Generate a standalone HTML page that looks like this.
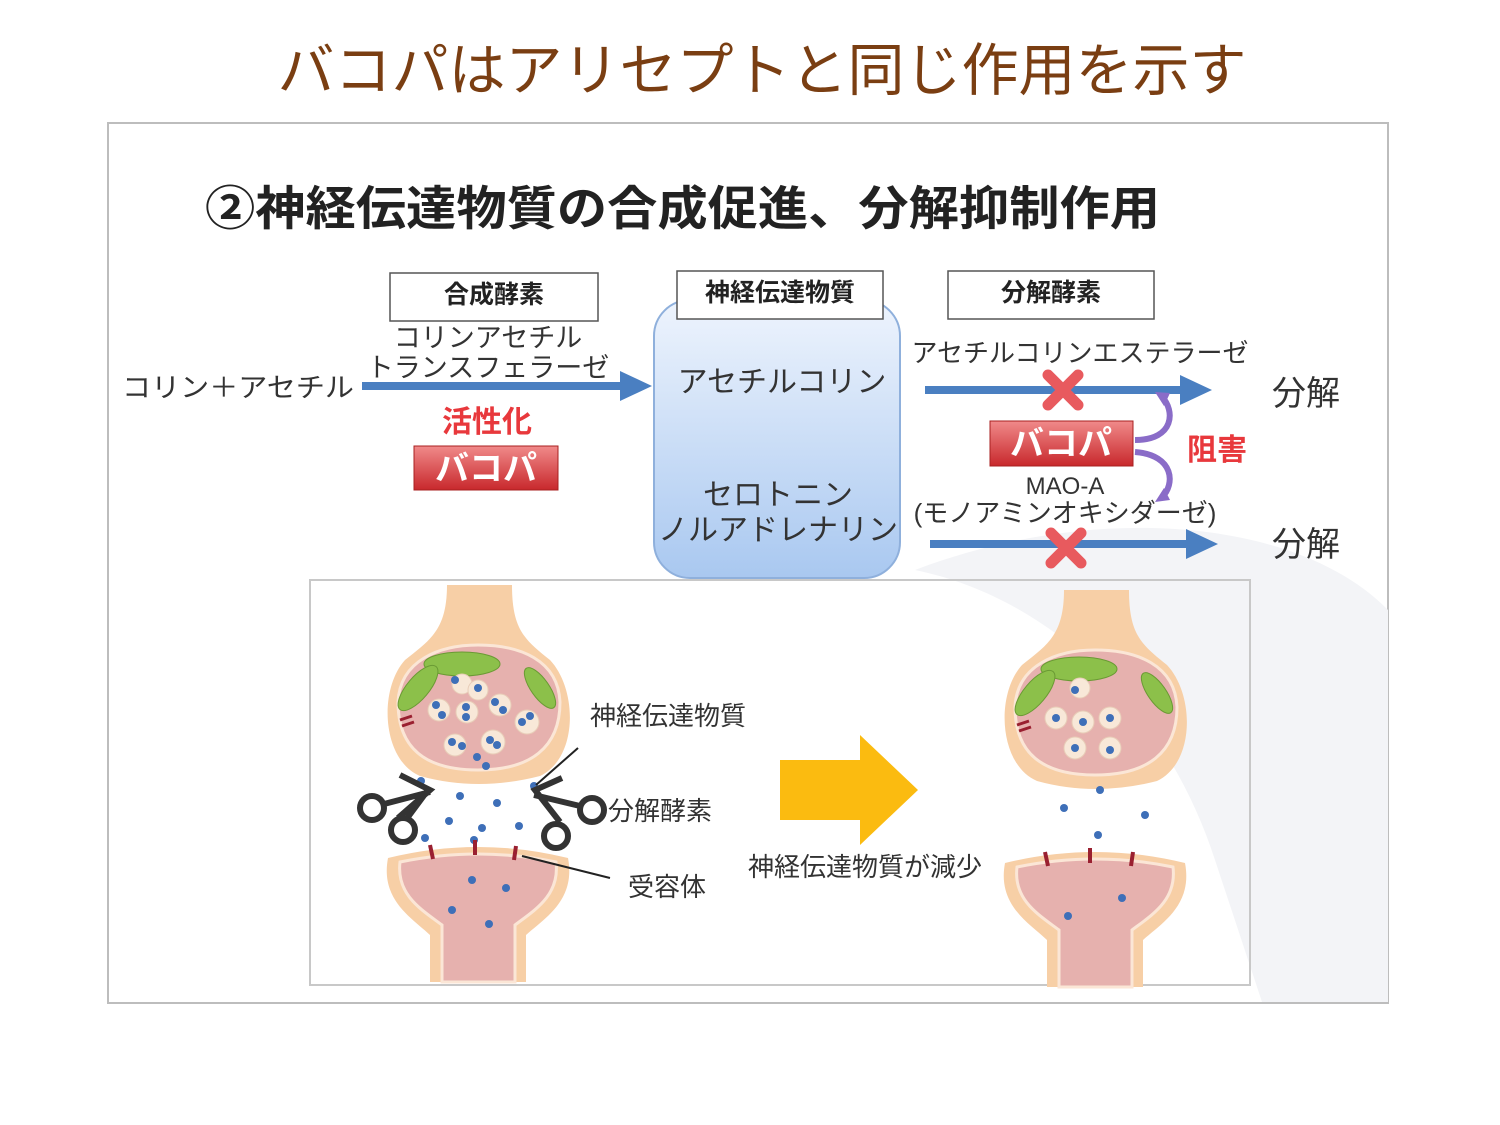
<!DOCTYPE html>
<html><head><meta charset="utf-8"><style>
html,body{margin:0;padding:0;background:#fff}
svg{display:block}
text{font-family:"Liberation Sans","Noto Sans CJK JP",sans-serif}
</style></head><body>
<svg width="1500" height="1125" viewBox="0 0 1500 1125" xmlns="http://www.w3.org/2000/svg">
<defs>
<linearGradient id="bl" x1="0" y1="0" x2="0" y2="1"><stop offset="0" stop-color="#eef4fd"/><stop offset="1" stop-color="#a9c8f0"/></linearGradient>
<linearGradient id="rd" x1="0" y1="0" x2="0" y2="1"><stop offset="0" stop-color="#f08a8a"/><stop offset="1" stop-color="#c8282c"/></linearGradient>
<g id="syn">
 <path d="M447,585 C447,630 430,640 405,660 C378,690 382,760 420,776 Q478,792 540,776 C578,758 578,690 550,660 C525,640 512,630 512,585 Z" fill="#f7cfa6"/>
 <path d="M398,702 C400,660 440,645 478,645 C520,645 558,660 560,702 C560,748 530,770 478,770 C425,770 398,748 398,702Z" fill="#e6b1ae" stroke="#fbe6d6" stroke-width="3"/>
 <ellipse cx="462" cy="664" rx="38" ry="12" fill="#8cc04a" stroke="#6a9a34"/>
 <ellipse cx="418" cy="688" rx="28" ry="11" fill="#8cc04a" stroke="#6a9a34" transform="rotate(-50 418 688)"/>
 <ellipse cx="540" cy="688" rx="24" ry="9" fill="#8cc04a" stroke="#6a9a34" transform="rotate(55 540 688)"/>
 <path d="M388,858 Q478,836 568,858 C576,900 545,918 526,935 L526,982 L430,982 L430,935 C412,918 380,900 388,858Z" fill="#f7cfa6"/>
 <path d="M400,862 Q478,846 556,862 C560,895 535,910 515,925 L515,982 L442,982 L442,925 C422,910 396,895 400,862Z" fill="#e6b1ae" stroke="#fbe6d6" stroke-width="3"/>
 <path d="M400,720 l12,-4 M402,726 l12,-4" stroke="#9a2030" stroke-width="3"/>
</g>
</defs>
<text x="762" y="90" font-size="57" fill="#7a3e12" text-anchor="middle">バコパはアリセプトと同じ作用を示す</text>
<rect x="108" y="123" width="1280" height="880" fill="#fff" stroke="#bdbdbd" stroke-width="2"/>
<path d="M915,570 C1060,600 1170,720 1215,860 L1262,1002 L1388,1002 L1388,610 C1300,520 1100,500 915,570Z" fill="#f3f4f7"/>
<text x="205" y="225" font-size="47" font-weight="bold" fill="#222" textLength="955" lengthAdjust="spacingAndGlyphs">②神経伝達物質の合成促進、分解抑制作用</text>
<rect x="654" y="300" width="246" height="278" rx="36" fill="url(#bl)" stroke="#8fb0dc" stroke-width="2"/>
<rect x="390" y="273" width="208" height="48" fill="#fff" stroke="#555" stroke-width="1.5"/>
<text x="494" y="303" font-size="25" font-weight="bold" text-anchor="middle" fill="#222">合成酵素</text>
<rect x="677" y="271" width="206" height="48" fill="#fff" stroke="#555" stroke-width="1.5"/>
<text x="780" y="301" font-size="25" font-weight="bold" text-anchor="middle" fill="#222">神経伝達物質</text>
<rect x="948" y="271" width="206" height="48" fill="#fff" stroke="#555" stroke-width="1.5"/>
<text x="1051" y="301" font-size="25" font-weight="bold" text-anchor="middle" fill="#222">分解酵素</text>
<g fill="#333" font-size="27" text-anchor="middle">
<text x="488" y="347">コリンアセチル</text>
<text x="488" y="377">トランスフェラーゼ</text>
<text x="122" y="397" text-anchor="start" textLength="232" lengthAdjust="spacingAndGlyphs">コリン＋アセチル</text>
<text x="782" y="392" font-size="30">アセチルコリン</text>
<text x="778" y="505" font-size="30">セロトニン</text>
<text x="778" y="540" font-size="30">ノルアドレナリン</text>
<text x="1080" y="362" font-size="26">アセチルコリンエステラーゼ</text>
<text x="1065" y="494" font-size="24">MAO-A</text>
<text x="1065" y="522" font-size="26">(モノアミンオキシダーゼ)</text>
<text x="1306" y="405" font-size="34">分解</text>
<text x="1306" y="556" font-size="34">分解</text>
</g>
<path d="M362,382 L620,382 L620,371 L652,386 L620,401 L620,390 L362,390Z" fill="#4a7fc1"/>
<path d="M925,386 L1180,386 L1180,375 L1212,390 L1180,405 L1180,394 L925,394Z" fill="#4a7fc1"/>
<path d="M930,540 L1186,540 L1186,529 L1218,544 L1186,559 L1186,548 L930,548Z" fill="#4a7fc1"/>
<g stroke="#e85a5e" stroke-width="11" stroke-linecap="round">
<path d="M1048,375 L1078,405 M1078,375 L1048,405"/>
<path d="M1051,533 L1081,563 M1081,533 L1051,563"/>
</g>
<text x="487" y="432" font-size="30" font-weight="bold" fill="#e8383c" text-anchor="middle">活性化</text>
<rect x="414" y="446" width="144" height="44" fill="url(#rd)" stroke="#a82020"/>
<text x="486" y="480" font-size="34" font-weight="bold" fill="#fff" text-anchor="middle">バコパ</text>
<rect x="990" y="421" width="143" height="45" fill="url(#rd)" stroke="#a82020"/>
<text x="1061" y="455" font-size="34" font-weight="bold" fill="#fff" text-anchor="middle">バコパ</text>
<text x="1187" y="460" font-size="30" font-weight="bold" fill="#e8383c">阻害</text>
<g fill="none" stroke="#8a6cc8" stroke-width="6">
<path d="M1135,440 C1175,440 1175,410 1162,397"/>
<path d="M1135,452 C1175,455 1175,485 1162,497"/>
</g>
<path d="M1155,392 L1170,393 L1164,406Z M1155,502 L1170,500 L1164,488Z" fill="#8a6cc8"/>
<rect x="310" y="580" width="940" height="405" fill="none" stroke="#c8c8c8" stroke-width="2"/>
<use href="#syn"/>
<use href="#syn" transform="translate(617,5)"/>
<g fill="#f8e8d8" stroke="#e8cdb8">
<circle cx="439" cy="710" r="11"/><circle cx="467" cy="712" r="11"/><circle cx="500" cy="705" r="11"/><circle cx="527" cy="722" r="12"/><circle cx="455" cy="745" r="11"/><circle cx="493" cy="742" r="12"/><circle cx="462" cy="684" r="10"/><circle cx="478" cy="690" r="10"/>
<circle cx="1056" cy="718" r="11"/><circle cx="1083" cy="722" r="11"/><circle cx="1110" cy="718" r="11"/><circle cx="1075" cy="748" r="11"/><circle cx="1110" cy="748" r="11"/><circle cx="1080" cy="688" r="10"/>
</g>
<g fill="#3e6fb8">
<circle cx="455" cy="680" r="4"/><circle cx="478" cy="688" r="4"/><circle cx="436" cy="705" r="4"/><circle cx="442" cy="715" r="4"/><circle cx="466" cy="707" r="4"/><circle cx="466" cy="717" r="4"/><circle cx="495" cy="702" r="4"/><circle cx="503" cy="710" r="4"/><circle cx="522" cy="722" r="4"/><circle cx="530" cy="716" r="4"/><circle cx="452" cy="742" r="4"/><circle cx="462" cy="746" r="4"/><circle cx="490" cy="740" r="4"/><circle cx="497" cy="745" r="4"/><circle cx="477" cy="757" r="4"/><circle cx="486" cy="766" r="4"/>
<circle cx="421" cy="781" r="4"/><circle cx="460" cy="796" r="4"/><circle cx="497" cy="803" r="4"/><circle cx="534" cy="786" r="4"/><circle cx="449" cy="821" r="4"/><circle cx="482" cy="828" r="4"/><circle cx="519" cy="826" r="4"/><circle cx="425" cy="838" r="4"/><circle cx="474" cy="840" r="4"/><circle cx="472" cy="880" r="4"/><circle cx="506" cy="888" r="4"/><circle cx="452" cy="910" r="4"/><circle cx="489" cy="924" r="4"/>
<circle cx="1075" cy="690" r="4"/><circle cx="1056" cy="718" r="4"/><circle cx="1083" cy="722" r="4"/><circle cx="1110" cy="718" r="4"/><circle cx="1075" cy="748" r="4"/><circle cx="1110" cy="750" r="4"/>
<circle cx="1100" cy="790" r="4"/><circle cx="1064" cy="808" r="4"/><circle cx="1145" cy="815" r="4"/><circle cx="1098" cy="835" r="4"/><circle cx="1122" cy="898" r="4"/><circle cx="1068" cy="916" r="4"/>
</g>
<g stroke="#9a2030" stroke-width="4">
<path d="M430,845 l3,14 M475,840 l0,15 M516,846 l-2,14 M1045,852 l3,14 M1090,848 l0,15 M1133,852 l-2,14"/>
</g>
<g fill="none" stroke="#333" stroke-width="6">
<circle cx="372" cy="808" r="12"/><circle cx="403" cy="830" r="12"/>
<path d="M384,804 L430,792 M398,818 L430,790 L400,775 M408,817 L428,790"/>
<circle cx="592" cy="810" r="12"/><circle cx="556" cy="836" r="12"/>
<path d="M580,806 L534,795 M560,822 L535,790 L562,778"/>
</g>
<g stroke="#222" stroke-width="2">
<path d="M536,785 L578,748 M522,856 L610,878"/>
</g>
<g fill="#333" font-size="26">
<text x="590" y="725">神経伝達物質</text>
<text x="608" y="820">分解酵素</text>
<text x="628" y="896">受容体</text>
<text x="748" y="876">神経伝達物質が減少</text>
</g>
<path d="M780,760 L860,760 L860,735 L918,790 L860,845 L860,820 L780,820Z" fill="#fbbb10"/>
</svg>
</body></html>
